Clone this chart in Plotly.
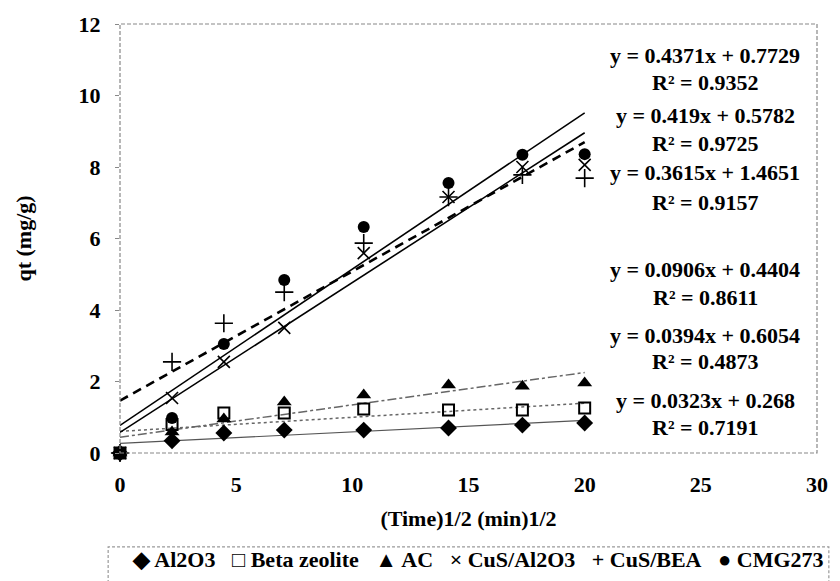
import plotly.graph_objects as go

# Square-root of contact time, (min)^1/2
sqrt_time = [0, 2.24, 4.47, 7.07, 10.49, 14.14, 17.32, 20.0]

# Uptake qt (mg/g) for each adsorbent
names = ["Al2O3", "Beta zeolite", "AC", "CuS/Al2O3", "CuS/BEA", "CMG273"]
qt_al2o3 = [0, 0.34, 0.56, 0.64, 0.64, 0.70, 0.78, 0.84]
qt_beta = [0, 0.80, 1.12, 1.12, 1.23, 1.20, 1.20, 1.26]
qt_ac = [0, 0.59, 0.95, 1.43, 1.62, 1.90, 1.87, 1.96]
qt_cus_al = [0, 1.54, 2.55, 3.50, 5.59, 7.16, 8.00, 8.06]
qt_cus_bea = [0, 2.55, 3.63, 4.50, 5.87, 7.16, 7.78, 7.69]
qt_cmg = [0, 0.98, 3.05, 4.84, 6.32, 7.55, 8.34, 8.36]
series = [qt_al2o3, qt_beta, qt_ac, qt_cus_al, qt_cus_bea, qt_cmg]

# Linear intraparticle-diffusion fits: slope, intercept, R^2
fit_slope = [0.0323, 0.0394, 0.0906, 0.419, 0.3615, 0.4371]
fit_intercept = [0.268, 0.6054, 0.4404, 0.5782, 1.4651, 0.7729]
fit_r2 = [0.7191, 0.4873, 0.8611, 0.9725, 0.9157, 0.9352]
fit_range = [0, 20]

# Vertical placement (data units) of each equation / R^2 pair
eq_y = [1.48, 3.30, 5.12, 9.45, 7.86, 11.13]
r2_y = [0.70, 2.55, 4.36, 8.67, 7.02, 10.35]
eq_x = 25.2

x_ticks = [0, 5, 10, 15, 20, 25, 30]
y_ticks = [0, 2, 4, 6, 8, 10, 12]

FONT = "Liberation Serif"
TEXT_FONT = dict(family=FONT, size=22, color="black", weight="bold")

marker_styles = [
    dict(symbol="diamond", size=13, color="black"),
    dict(symbol="square-open", size=11, color="black", line=dict(width=2, color="black")),
    dict(symbol="triangle-up", size=13, color="black"),
    dict(symbol="x-thin-open", size=12, color="black", line=dict(width=1.6, color="black")),
    dict(symbol="cross-thin-open", size=13, color="black", line=dict(width=1.6, color="black")),
    dict(symbol="circle", size=12, color="black"),
]
line_styles = [
    dict(color="#555555", width=1.2, dash="solid"),
    dict(color="#666666", width=1.5, dash="dot"),
    dict(color="#666666", width=1.5, dash="dashdot"),
    dict(color="black", width=1.6, dash="solid"),
    dict(color="black", width=2.6, dash="9px,6px"),
    dict(color="black", width=1.6, dash="solid"),
]
legend_glyphs = ["\u25C6", "\u25A1", "\u25B2", "\u00D7", "+", "\u25CF"]

fig = go.Figure()

for i, name in enumerate(names):
    fy = [fit_slope[i] * x + fit_intercept[i] for x in fit_range]
    fig.add_trace(go.Scatter(x=fit_range, y=fy, mode="lines", line=line_styles[i],
                             showlegend=False, hoverinfo="skip"))

for i, name in enumerate(names):
    fig.add_trace(go.Scatter(x=sqrt_time, y=series[i], mode="markers", name=name,
                             marker=marker_styles[i], showlegend=False, cliponaxis=False))

annotations = []
for i in range(len(names)):
    annotations.append(dict(
        x=eq_x, y=eq_y[i], xref="x", yref="y", showarrow=False,
        text=f"y = {fit_slope[i]}x + {fit_intercept[i]}",
        font=TEXT_FONT, xanchor="center", yanchor="middle"))
    annotations.append(dict(
        x=eq_x, y=r2_y[i], xref="x", yref="y", showarrow=False,
        text=f"R\u00B2 = {fit_r2[i]}",
        font=TEXT_FONT, xanchor="center", yanchor="middle"))

# Legend row written as a single line of symbols and names
legend_text = "\u00A0\u00A0\u00A0".join(f"{g} {n}" for g, n in zip(legend_glyphs, names))
annotations.append(dict(
    x=0.014, y=-0.249, xref="paper", yref="paper", showarrow=False,
    text=legend_text, xanchor="left", yanchor="middle", font=TEXT_FONT))

shapes = [
    # plot-area frame
    dict(type="rect", xref="x domain", yref="y domain", x0=0, x1=1, y0=0, y1=1,
         line=dict(color="#888888", width=1.2, dash="4px,2px"), layer="above"),
    # legend box
    dict(type="rect", xref="paper", yref="paper", x0=-0.017, x1=1.017, y0=-0.36, y1=-0.219,
         line=dict(color="#999999", width=1.2, dash="3px,2px")),
]

fig.update_layout(
    width=840, height=581,
    margin=dict(l=120, r=14, t=24, b=128),
    paper_bgcolor="white", plot_bgcolor="white",
    font=TEXT_FONT,
    annotations=annotations, shapes=shapes, showlegend=False,
)
fig.update_xaxes(
    range=[0, 30], tickvals=x_ticks, ticktext=[str(v) for v in x_ticks],
    showgrid=False, zeroline=False, showline=False, ticks="",
    ticklabelstandoff=16, tickfont=TEXT_FONT,
    title=dict(text="(Time)1/2 (min)1/2", standoff=14, font=TEXT_FONT),
)
fig.update_yaxes(
    range=[0, 12], tickvals=y_ticks, ticktext=[str(v) for v in y_ticks],
    showgrid=False, zeroline=False, showline=False,
    ticks="outside", ticklen=4, tickcolor="#888888", ticklabelstandoff=10,
    tickfont=TEXT_FONT,
    title=dict(text="qt (mg/g)", standoff=40, font=TEXT_FONT),
)

fig.write_html("out.html")
